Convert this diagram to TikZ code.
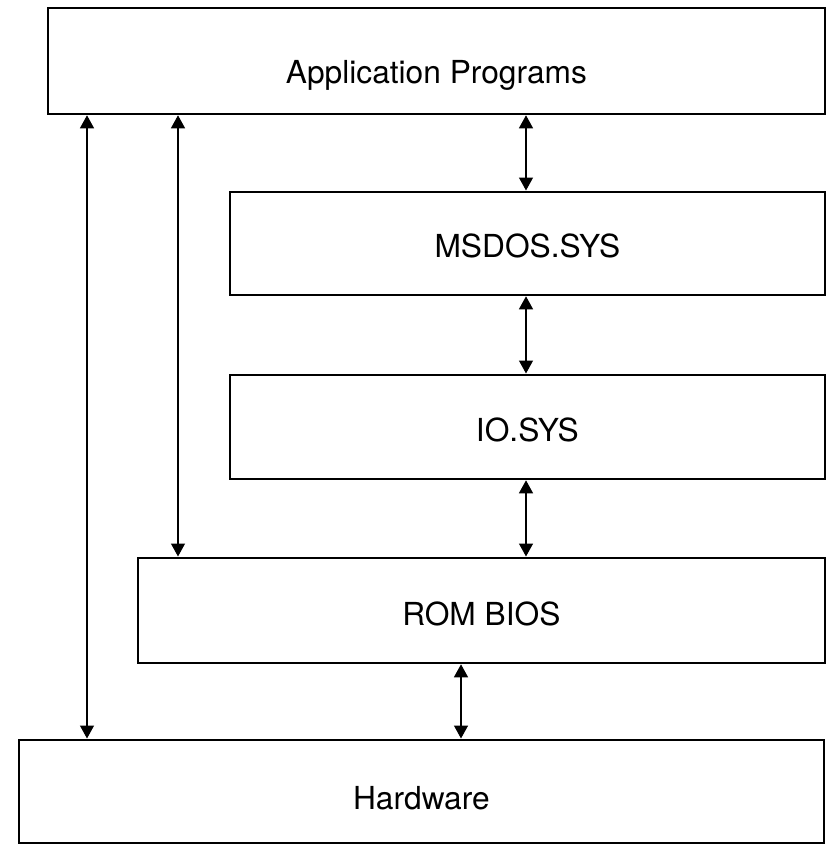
\documentclass[tikz,border=0pt]{standalone}
\usepackage{fontspec}
\setmainfont{TeX Gyre Heros}
\usetikzlibrary{arrows.meta}
\tikzset{
  layer/.style={draw, line width=1.8pt, inner sep=0pt, anchor=north west,
    font=\fontsize{31.7}{36}\selectfont, text depth=0pt},
  link/.style={line width=1.4pt, {Triangle[width=14pt,length=13pt]}-{Triangle[width=14pt,length=13pt]}, shorten <=0.5pt, shorten >=0.5pt}
}
\begin{document}
\begin{tikzpicture}[x=1pt,y=-1pt]
\useasboundingbox (0,0) rectangle (831,846);
\node[layer, minimum width=777pt, minimum height=106pt, text height=45.4pt] (app) at (47,7) {Application Programs};
\node[layer, minimum width=595pt, minimum height=103pt, text height=28pt] (msdos) at (229,191) {MSDOS.SYS};
\node[layer, minimum width=595pt, minimum height=104pt, text height=30pt] (io) at (229,374) {IO.SYS};
\node[layer, minimum width=687pt, minimum height=105pt, text height=29.6pt] (rom) at (137,557) {ROM BIOS};
\node[layer, minimum width=805pt, minimum height=103pt, text height=35.6pt] (hw) at (18,739) {Hardware};
\coordinate (xa) at (87,0);
\coordinate (xb) at (178,0);
\coordinate (xc) at (526,0);
\coordinate (xd) at (461,0);
\draw[link] (app.south -| xa) -- (hw.north -| xa);
\draw[link] (app.south -| xb) -- (rom.north -| xb);
\draw[link] (app.south -| xc) -- (msdos.north -| xc);
\draw[link] (msdos.south -| xc) -- (io.north -| xc);
\draw[link] (io.south -| xc) -- (rom.north -| xc);
\draw[link] (rom.south -| xd) -- (hw.north -| xd);
\end{tikzpicture}
\end{document}
